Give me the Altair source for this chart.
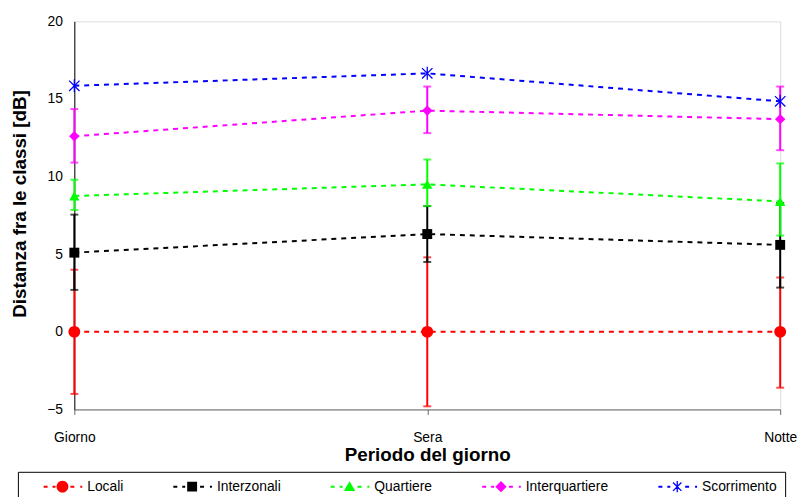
import math
import altair as alt
import pandas as pd

# ---- data ----
periods = ["Giorno", "Sera", "Notte"]
series = ["Locali", "Interzonali", "Quartiere", "Interquartiere", "Scorrimento"]
colors = ["#ff0000", "#000000", "#00ff00", "#ff00ff", "#0000ff"]

locali = [0.0, 0.0, 0.0]
locali_lo = [-4.0, -4.8, -3.6]
locali_hi = [4.0, 4.8, 3.5]

interzonali = [5.1, 6.3, 5.6]
interzonali_lo = [2.7, 4.5, 2.85]
interzonali_hi = [7.55, 8.1, 8.3]

quartiere = [8.75, 9.5, 8.4]
quartiere_lo = [7.85, 8.1, 6.2]
quartiere_hi = [9.8, 11.1, 10.85]

interquartiere = [12.6, 14.25, 13.7]
interquartiere_lo = [10.9, 12.8, 11.7]
interquartiere_hi = [14.35, 15.8, 15.8]

scorrimento = [15.85, 16.65, 14.85]

values = [locali, interzonali, quartiere, interquartiere, scorrimento]
lows = [locali_lo, interzonali_lo, quartiere_lo, interquartiere_lo, None]
highs = [locali_hi, interzonali_hi, quartiere_hi, interquartiere_hi, None]

rows = []
for s, vals, lo, hi in zip(series, values, lows, highs):
    for i, p in enumerate(periods):
        rows.append({
            "series": s, "period": p, "value": vals[i],
            "lo": lo[i] if lo else None, "hi": hi[i] if hi else None,
        })
df = pd.DataFrame(rows)

FONT = "Liberation Sans"

x_enc = alt.X("period:N", sort=periods,
              scale=alt.Scale(type="point", domain=periods, padding=0),
              axis=alt.Axis(title="Periodo del giorno", labelAngle=0,
                            domainColor="#666666", tickColor="#666666",
                            tickSize=5, labelPadding=16, titlePadding=2,
                            labelFontSize=14, titleFontSize=19,
                            labelColor="#000000", titleColor="#000000",
                            labelFont=FONT, titleFont=FONT, grid=False))
y_scale = alt.Scale(domain=[-5, 20], nice=False, zero=False)
y_enc = alt.Y("value:Q", scale=y_scale,
              axis=alt.Axis(title="Distanza fra le classi [dB]",
                            values=[-5, 0, 5, 10, 15, 20], tickSize=0,
                            ticks=False, labelPadding=12, domainColor="#000000",
                            labelFontSize=14, titleFontSize=19,
                            labelColor="#000000", titleColor="#000000",
                            labelFont=FONT, titleFont=FONT, grid=False,
                            titleX=-55, titleY=184, titleBaseline="middle"))
x_plain = alt.X("period:N", sort=periods)

asterisk = "M-1,-1L1,1M-1,1L1,-1M0,-1.25L0,1.25"
marker_specs = [
    ("circle", 144, True),
    ("square", 100, True),
    ("triangle-up", 110, True),
    ("diamond", 110, True),
    (asterisk, 110, False),
]

layers = []
for idx, (s, c, (shape, size, filled)) in enumerate(zip(series, colors, marker_specs)):
    base = alt.Chart(df).transform_filter(alt.datum.series == s)
    layers.append(base.mark_line(strokeDash=[5, 5], strokeWidth=2, color=c).encode(
        x=x_enc if idx == 0 else x_plain,
        y=y_enc if idx == 0 else alt.Y("value:Q", scale=y_scale)))
    if lows[idx] is not None:
        layers.append(base.mark_rule(strokeWidth=2, color=c).encode(
            x=x_plain, y=alt.Y("lo:Q", scale=y_scale), y2="hi:Q"))
        layers.append(base.mark_tick(orient="horizontal", size=8, thickness=2, color=c).encode(
            x=x_plain, y=alt.Y("lo:Q", scale=y_scale)))
        layers.append(base.mark_tick(orient="horizontal", size=8, thickness=2, color=c).encode(
            x=x_plain, y=alt.Y("hi:Q", scale=y_scale)))
    kw = dict(shape=shape, size=size, filled=filled, opacity=1)
    if filled:
        kw.update(fill=c, stroke=c, strokeWidth=0)
    else:
        kw.update(stroke=c, strokeWidth=1.3)
    layers.append(base.mark_point(**kw).encode(
        x=x_plain, y=alt.Y("value:Q", scale=y_scale)))


# ---- legend symbols: dashed line sample with marker ----
def rect(p1, p2, hw):
    dx, dy = p2[0] - p1[0], p2[1] - p1[1]
    L = math.hypot(dx, dy)
    nx, ny = -dy / L * hw, dx / L * hw
    pts = [(p1[0] + nx, p1[1] + ny), (p2[0] + nx, p2[1] + ny),
           (p2[0] - nx, p2[1] - ny), (p1[0] - nx, p1[1] - ny)]
    return "M" + " L".join(f"{x:.3f} {y:.3f}" for x, y in pts) + " Z "


def poly(pts):
    return "M" + " L".join(f"{x:.3f} {y:.3f}" for x, y in pts) + " Z "


circle_pts = [(1.2 * math.cos(2 * math.pi * k / 24), 1.2 * math.sin(2 * math.pi * k / 24))
              for k in range(24)]

dashes = "".join(rect((a, 0), (b, 0), 0.2) for a, b in
                 [(-3.8, -3.0), (-2.0, -1.4), (1.6, 2.4), (3.6, 4.0)])
leg_markers = [
    poly(circle_pts),
    poly([(-1, -1), (1, -1), (1, 1), (-1, 1)]),
    poly([(0, -1.1), (1.15, 0.9), (-1.15, 0.9)]),
    poly([(0, -1.15), (1.15, 0), (0, 1.15), (-1.15, 0)]),
    rect((0, -1.15), (0, 1.15), 0.13)
    + rect((-0.85, -0.85), (0.85, 0.85), 0.13)
    + rect((-0.85, 0.85), (0.85, -0.85), 0.13),
]
legend_paths = [(dashes + m).strip() for m in leg_markers]

legend_cfg = alt.Legend(
    title=None, orient="none", direction="horizontal", columns=5,
    legendX=-57, legendY=455,
    strokeColor="#000000", fillColor="#ffffff", padding=8,
    symbolSize=100, symbolStrokeWidth=0, symbolOffset=30, labelOffset=18,
    labelFont=FONT, labelFontSize=14, labelColor="#000000",
    columnPadding=32, symbolOpacity=1,
)
legend_layer = alt.Chart(df).mark_point(
    filled=True, size=100, opacity=0).encode(
    x=x_plain,
    y=alt.Y("value:Q", scale=y_scale),
    color=alt.Color("series:N", scale=alt.Scale(domain=series, range=colors),
                    legend=legend_cfg),
    shape=alt.Shape("series:N", scale=alt.Scale(domain=series, range=legend_paths),
                    legend=legend_cfg),
)

chart = alt.layer(*layers, legend_layer).properties(
    width=713, height=392,
    autosize=alt.AutoSizeParams(type="none"),
    padding={"left": 67, "top": 11, "right": 19, "bottom": 90},
).configure_view(stroke=None).configure(background="#ffffff")

chart.save("out.html", embed_options={"renderer": "svg", "actions": False})
